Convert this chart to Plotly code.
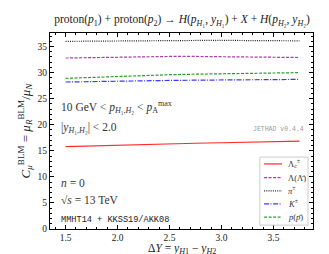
import plotly.graph_objects as go

dy = [1.5, 1.75, 2.0, 2.25, 2.5, 2.75, 3.0, 3.25, 3.5, 3.75]
lambda_c = [15.8, 15.95, 16.1, 16.2, 16.35, 16.45, 16.55, 16.65, 16.75, 16.85]
lambda_ = [32.8, 32.9, 33.0, 33.05, 33.1, 33.1, 33.05, 33.0, 32.95, 32.9]
pion = [36.0, 36.05, 36.1, 36.15, 36.2, 36.2, 36.2, 36.15, 36.15, 36.1]
kaon = [28.2, 28.3, 28.35, 28.45, 28.5, 28.55, 28.6, 28.65, 28.65, 28.7]
proton = [28.9, 29.1, 29.3, 29.45, 29.6, 29.7, 29.8, 29.9, 29.95, 30.0]

names = ["Λ<sub>c</sub><sup>±</sup>", "Λ(Λ\u0304)", "<i>π</i><sup>±</sup>", "<i>K</i><sup>±</sup>", "<i>p</i>(<i>p</i>\u0304)"]
colors = ["#ff2a2a", "#a83ca8", "#222222", "#3a3aff", "#2ca02c"]
dashes = ["solid", "3px,1.5px", "1px,1.2px", "5px,1.5px,1px,1.5px", "3px,1.5px"]
series = [lambda_c, lambda_, pion, kaon, proton]

SERIF = "Liberation Serif"
MONO = "Liberation Mono"

fig = go.Figure()
for n, c, d, s in zip(names, colors, dashes, series):
    fig.add_trace(go.Scatter(x=dy, y=s, mode="lines", name=n, showlegend=False,
                             line=dict(color=c, dash=d, width=1.2)))

axis_common = dict(showline=True, linecolor="black", linewidth=1, mirror="ticks",
                   ticks="inside", ticklen=4, tickcolor="black", showgrid=False,
                   zeroline=False, tickfont=dict(family=SERIF, size=9.5, color="#222"))

fig.update_xaxes(range=[1.35, 3.88], tick0=1.5, dtick=0.5, tickformat=".1f",
                 minor=dict(ticks="inside", ticklen=2, dtick=0.1, tick0=1.5, tickcolor="black"),
                 **axis_common)
fig.update_yaxes(range=[0, 37.6], tick0=0, dtick=5,
                 minor=dict(ticks="inside", ticklen=2, dtick=1, tickcolor="black"),
                 title=dict(text="<i>C</i><sub><i>μ</i></sub><sup>BLM</sup> = <i>μ</i><sub><i>R</i></sub><sup>BLM</sup>/<i>μ</i><sub><i>N</i></sub>",
                            font=dict(family=SERIF, size=13, color="#222"), standoff=4),
                 **axis_common)

ann = []
def txt(x, y, t, font, xanchor="left"):
    ann.append(dict(x=x, y=y, xref="paper", yref="paper", text=t, showarrow=False,
                    xanchor=xanchor, yanchor="middle", font=font))

# x-axis title as annotation (keeps subscripts inside the picture)
txt(0.5, -0.1, "Δ<i>Y</i> = <i>y</i><sub><i>H</i>1</sub> − <i>y</i><sub><i>H</i>2</sub>",
    dict(family=SERIF, size=11.5, color="#222"), xanchor="center")

sf = dict(family=SERIF, size=11.5, color="#333")
txt(0.035, 0.62, "10 GeV &lt; <i>p</i><sub><i>H</i>₁,<i>H</i>₂</sub> &lt; <i>p</i><sub>A</sub><sup>max</sup>", sf)
txt(0.035, 0.515, "|<i>y</i><sub><i>H</i>₁,<i>H</i>₂</sub>| &lt; 2.0", sf)
txt(0.975, 0.51, "JETHAD v0.4.4", dict(family=MONO, size=6.5, color="#999"), xanchor="right")
txt(0.035, 0.237, "<i>n</i> = 0", sf)
txt(0.035, 0.15, "√<i>s</i> = 13 TeV", sf)
txt(0.035, 0.048, "MMHT14 + KKSS19/AKK08", dict(family=MONO, size=8.6, color="#222"))

# hand-made legend (compact, like the reference)
shapes = [dict(type="rect", xref="paper", yref="paper", x0=0.798, x1=0.981, y0=0.020, y1=0.367,
               line=dict(color="#cccccc", width=1), fillcolor="white", layer="above")]
leg_y = [0.332, 0.262, 0.195, 0.128, 0.061]
for n, c, d, yy in zip(names, colors, dashes, leg_y):
    shapes.append(dict(type="line", xref="paper", yref="paper", x0=0.814, x1=0.882, y0=yy, y1=yy,
                       line=dict(color=c, dash=d, width=1.2), layer="above"))
    ann.append(dict(x=0.899, y=yy, xref="paper", yref="paper", text=n, showarrow=False,
                    xanchor="left", yanchor="middle",
                    font=dict(family=SERIF, size=8.5, color="#333")))

fig.update_layout(
    width=329, height=254,
    margin=dict(l=42, r=24, t=25, b=33),
    paper_bgcolor="white", plot_bgcolor="white",
    title=dict(text="proton(<i>p</i><sub>1</sub>) + proton(<i>p</i><sub>2</sub>) → <i>H</i>(<i>p</i><sub><i>H</i>₁</sub>, <i>y</i><sub><i>H</i>₁</sub>) + <i>X</i> + <i>H</i>(<i>p</i><sub><i>H</i>₂</sub>, <i>y</i><sub><i>H</i>₂</sub>)",
               x=0.529, xanchor="center", y=0.955, yanchor="middle",
               font=dict(family=SERIF, size=11.5, color="#222")),
    showlegend=False,
    shapes=shapes,
    annotations=ann,
)

fig.write_html("out.html")
